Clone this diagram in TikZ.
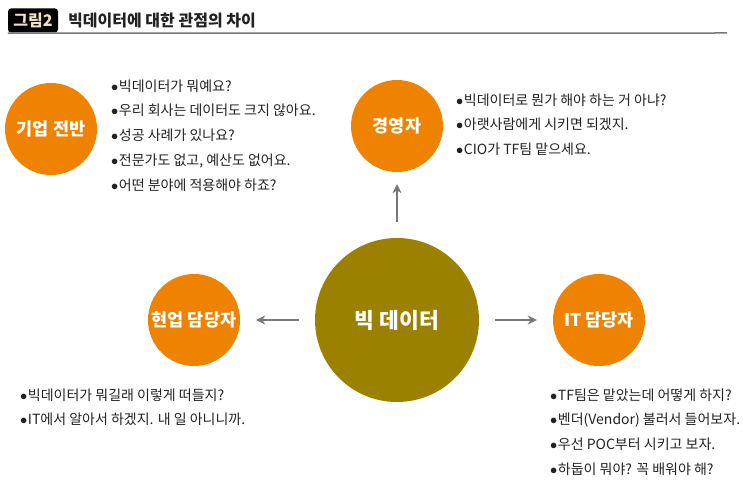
\documentclass[tikz,border=0pt]{standalone}
\usepackage{fontspec}
\setmainfont{Noto Sans CJK KR}
\usepackage{tikz}
\usetikzlibrary{arrows.meta,calc}
\definecolor{Persp}{HTML}{EF8300}
\definecolor{Core}{HTML}{9C8000}
\definecolor{Flow}{HTML}{777777}
\definecolor{Ink}{HTML}{222222}
\definecolor{Tag}{HTML}{EDE2C2}
\newcommand{\blt}{\hspace{-2pt}$\bullet$\hspace{0.5pt}}

\begin{document}
\begin{tikzpicture}[x=1pt, y=-1pt, every node/.style={inner sep=0pt},
  role/.style={circle, fill=Persp, minimum size=92pt, text=white,
               font=\fontsize{17.5}{20}\selectfont\bfseries},
  voice/.style={anchor=north west, align=left, text=Ink,
                font=\fontsize{14}{24.7}\selectfont},
  flow/.style={draw=Flow, line width=2pt, -{Stealth[length=9pt,width=9pt]}}]
  \useasboundingbox (0,0) rectangle (743,486);

  % title bar
  \node[fill=black, rounded corners=3pt, minimum width=50pt, minimum height=24pt,
        text=Tag, font=\fontsize{16}{18}\selectfont\bfseries] (tag) at (33,20.5) {그림2};
  \node[anchor=west, text=Ink, font=\fontsize{16}{18}\selectfont\bfseries]
    (title) at (68,20.5) {빅데이터에 대한 관점의 차이};
  \coordinate (ruleend) at (727,33);
  \draw[Flow, line width=1.5pt] (tag.south west) ++(0,0.5) -- (ruleend);

  % circles
  \node[role] (corp) at (51,129) {기업 전반};
  \node[role] (mgr) at (397,126) {경영자};
  \node[role] (field) at (194,320) {현업 담당자};
  \node[role] (itstaff) at (599,320) {IT 담당자};
  \node[circle, fill=Core, minimum size=164pt, text=white,
        font=\fontsize{21.5}{24}\selectfont\bfseries] (bigdata) at (397,320) {빅 데이터};

  % arrows
  \draw[flow, shorten <=16pt, shorten >=12pt] (bigdata.north -| mgr) -- (mgr);
  \draw[flow, shorten <=16pt, shorten >=16pt] (bigdata) -- (field);
  \draw[flow, shorten <=16pt, shorten >=16pt] (bigdata) -- (itstaff);

  % voices
  \node[voice] (corpq) at (113,79.5)
    {\blt 빅데이터가 뭐예요?\\
     \blt 우리 회사는 데이터도 크지 않아요.\\
     \blt 성공 사례가 있나요?\\
     \blt 전문가도 없고, 예산도 없어요.\\
     \blt 어떤 분야에 적용해야 하죠?};
  \node[voice] (mgrq) at (458,93.5)
    {\blt 빅데이터로 뭔가 해야 하는 거 아냐?\\
     \blt 아랫사람에게 시키면 되겠지.\\
     \blt CIO가 TF팀 맡으세요.};
  \node[voice] (fieldq) at (22,388.5)
    {\blt 빅데이터가 뭐길래 이렇게 떠들지?\\
     \blt IT에서 알아서 하겠지. 내 일 아니니까.};
  \node[voice] (itq) at (552,388.5)
    {\blt TF팀은 맡았는데 어떻게 하지?\\
     \blt 벤더(Vendor) 불러서 들어보자.\\
     \blt 우선 POC부터 시키고 보자.\\
     \blt 하둡이 뭐야? 꼭 배워야 해?};
\end{tikzpicture}
\end{document}
